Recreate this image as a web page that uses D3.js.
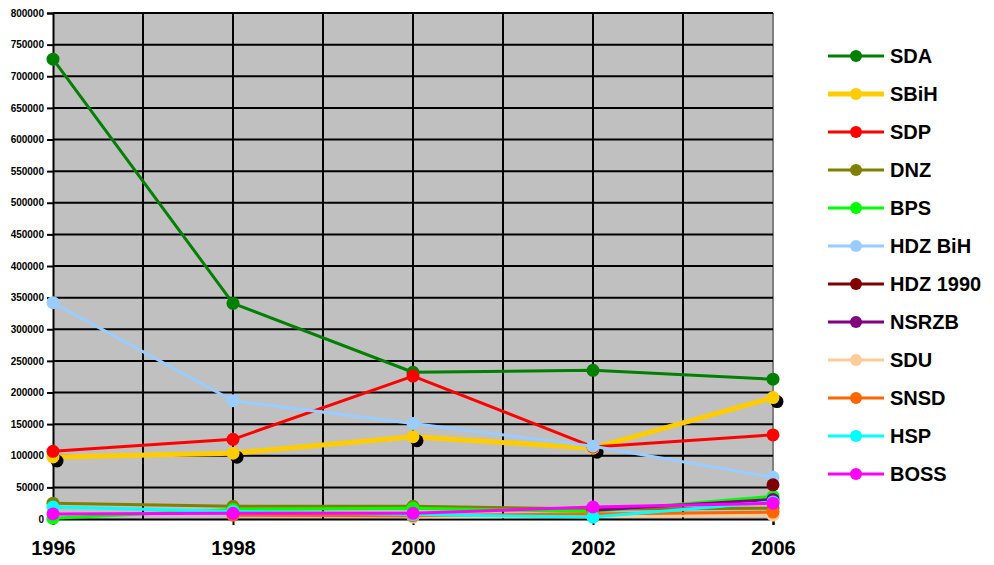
<!DOCTYPE html>
<html>
<head>
<meta charset="utf-8">
<script src="https://cdn.jsdelivr.net/npm/d3@7"></script>
<style>
  html, body { margin: 0; padding: 0; background: #fff; }
  svg { display: block; font-family: "Liberation Sans", Arial, sans-serif; }
</style>
</head>
<body>
<svg id="chart" width="994" height="565"></svg>
<script>
const years = ["1996", "1998", "2000", "2002", "2006"];
const yTicks = [0, 50000, 100000, 150000, 200000, 250000, 300000, 350000, 400000, 450000, 500000, 550000, 600000, 650000, 700000, 750000, 800000];

const seriesNames = ["SDA", "SBiH", "SDP", "DNZ", "BPS", "HDZ BiH", "HDZ 1990", "NSRZB", "SDU", "SNSD", "HSP", "BOSS"];
const seriesColors = ["#008000", "#FFCC00", "#FF0000", "#808000", "#00FF00", "#99CCFF", "#800000", "#800080", "#FFCC99", "#FF6600", "#00FFFF", "#FF00FF"];

const SDA     = [727000, 341000, 232000, 235000, 221000];
const SBiH    = [98000, 104000, 130000, 112000, 192000];
const SDP     = [107000, 126000, 226000, 114000, 133000];
const DNZ     = [25000, 20000, 20000, 16000, 17000];
const BPS     = [1000, 15000, 17000, 12000, 36000];
const HDZBiH  = [342000, 187000, 151000, 115000, 66000];
const HDZ1990 = [null, null, null, null, 54000];
const NSRZB   = [null, null, null, 14000, 31000];
const SDU     = [null, null, 3000, 4000, 6000];
const SNSD    = [null, 6000, 5000, 8000, 11000];
const HSP     = [19000, 12000, 7000, 3000, 27000];
const BOSS    = [8000, 9000, 9000, 19000, 25000];

const seriesValues = [SDA, SBiH, SDP, DNZ, BPS, HDZBiH, HDZ1990, NSRZB, SDU, SNSD, HSP, BOSS];

const svg = d3.select("#chart");
const pLeft = 53, pRight = 773, pTop = 13, pBottom = 519;

const x = d3.scalePoint().domain(years).range([pLeft, pRight]).padding(0);
const y = d3.scaleLinear().domain([0, 800000]).range([pBottom, pTop]);

// plot background
svg.append("rect").attr("x", pLeft).attr("y", pTop)
  .attr("width", pRight - pLeft).attr("height", pBottom - pTop)
  .attr("fill", "#C0C0C0");

// vertical gridlines: at categories and midpoints
const step = x.step();
const vGrid = [];
years.forEach((yr, i) => {
  if (i > 0) vGrid.push(x(yr));
  if (i < years.length - 1) vGrid.push(x(yr) + step / 2);
});
svg.append("g").selectAll("line").data(vGrid).join("line")
  .attr("x1", d => d).attr("x2", d => d).attr("y1", pTop).attr("y2", pBottom)
  .attr("stroke", d => Math.abs(d - pRight) < 1 ? "#808080" : "#000")
  .attr("stroke-width", 2);

// horizontal gridlines
svg.append("g").selectAll("line").data(yTicks.filter(t => t > 0)).join("line")
  .attr("x1", pLeft).attr("x2", pRight).attr("y1", d => y(d)).attr("y2", d => y(d))
  .attr("stroke", "#000").attr("stroke-width", 2);

// y axis
const yAxis = svg.append("g").attr("transform", `translate(${pLeft},0)`)
  .call(d3.axisLeft(y).tickValues(yTicks).tickFormat(d3.format("d")).tickSize(6).tickPadding(3));
yAxis.select(".domain").attr("stroke", "#000").attr("stroke-width", 2);
yAxis.selectAll(".tick line").attr("stroke", "#000").attr("stroke-width", 2);
yAxis.selectAll("text").attr("font-size", 10).attr("font-weight", "bold")
  .attr("font-family", "'Liberation Sans', Arial, sans-serif").attr("fill", "#000");

// x axis
const xAxis = svg.append("g").attr("transform", `translate(0,${pBottom})`)
  .call(d3.axisBottom(x).tickSize(6).tickPadding(16));
xAxis.select(".domain").attr("stroke", "#000").attr("stroke-width", 2);
xAxis.selectAll(".tick line").attr("stroke", "#000").attr("stroke-width", 2);
xAxis.selectAll("text").attr("font-size", 20).attr("font-weight", "bold")
  .attr("font-family", "'Liberation Sans', Arial, sans-serif").attr("fill", "#000");

const line = d3.line()
  .defined(d => d != null)
  .x((d, i) => x(years[i]))
  .y(d => y(d));

const lineW = name => name === "SBiH" ? 5 : 3;

seriesNames.forEach((name, si) => {
  const vals = seriesValues[si];
  const col = seriesColors[si];
  const g = svg.append("g");
  g.append("path").datum(vals).attr("d", line)
    .attr("fill", "none").attr("stroke", col).attr("stroke-width", lineW(name))
    .attr("stroke-linejoin", "round");
  const pts = vals.map((v, i) => ({v, i})).filter(d => d.v != null);
  if (name === "SBiH") {
    g.selectAll("circle.shadow").data(pts).join("circle").attr("class", "shadow")
      .attr("cx", d => x(years[d.i]) + 4).attr("cy", d => y(d.v) + 4)
      .attr("r", 6.5).attr("fill", "#000");
  }
  g.selectAll("circle.m").data(pts).join("circle").attr("class", "m")
    .attr("cx", d => x(years[d.i])).attr("cy", d => y(d.v))
    .attr("r", 6.5).attr("fill", col);
});

// legend
const lg = svg.append("g");
seriesNames.forEach((name, si) => {
  const ly = 56 + si * 38;
  lg.append("line").attr("x1", 828).attr("x2", 884).attr("y1", ly).attr("y2", ly)
    .attr("stroke", seriesColors[si]).attr("stroke-width", lineW(name));
  lg.append("circle").attr("cx", 856).attr("cy", ly).attr("r", 6).attr("fill", seriesColors[si]);
  lg.append("text").attr("x", 890).attr("y", ly + 7).text(name)
    .attr("font-size", 20).attr("font-weight", "bold").attr("fill", "#000");
});
</script>
</body>
</html>
